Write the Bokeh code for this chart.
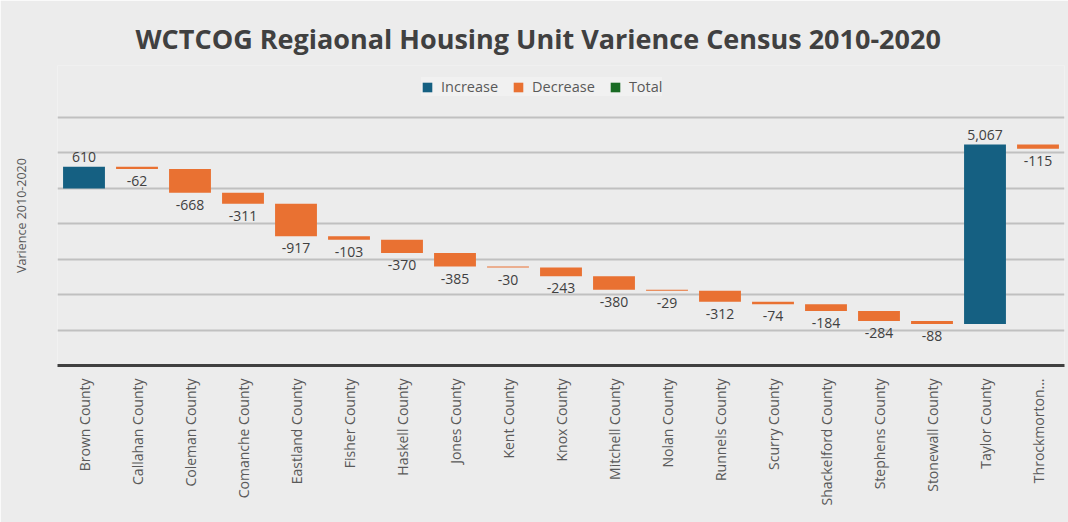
import numpy as np
from bokeh.plotting import figure
from bokeh.models import ColumnDataSource, Legend, LegendItem, FixedTicker, LabelSet, Range1d
from bokeh.core.properties import value
from bokeh.embed import file_html
from bokeh.resources import INLINE

counties = ["Brown County", "Callahan County", "Coleman County", "Comanche County",
            "Eastland County", "Fisher County", "Haskell County", "Jones County",
            "Kent County", "Knox County", "Mitchell County", "Nolan County",
            "Runnels County", "Scurry County", "Shackelford County", "Stephens County",
            "Stonewall County", "Taylor County", "Throckmorton..."]
changes = [610, -62, -668, -311, -917, -103, -370, -385, -30, -243, -380, -29,
           -312, -74, -184, -284, -88, 5067, -115]
y_ticks = [2000, 1000, 0, -1000, -2000, -3000, -4000, -5000]

BLUE = "#156082"
ORANGE = "#E97132"
GREEN = "#196B24"
BG = "#ececec"
FONT = "Open Sans"

chg = np.array(changes)
end = np.cumsum(chg)
start = end - chg

inc = chg > 0
dec = chg < 0

src_inc = ColumnDataSource(dict(x=[c for c, m in zip(counties, inc) if m],
                                bottom=start[inc], top=end[inc],
                                txt=[f"{v:,}" for v in chg[inc]]))
src_dec = ColumnDataSource(dict(x=[c for c, m in zip(counties, dec) if m],
                                bottom=end[dec], top=start[dec],
                                txt=[f"{v:,}" for v in chg[dec]]))

p = figure(x_range=counties, y_range=Range1d(-5000, 3470), width=1068, height=522,
           output_backend="svg", toolbar_location=None,
           min_border_left=57, min_border_right=4, min_border_top=65, min_border_bottom=157)

p.background_fill_color = BG
p.border_fill_color = BG
p.outline_line_color = None

p.title.text = "WCTCOG Regiaonal Housing Unit Varience Census 2010-2020"
p.title.align = "left"
p.title.text_font = FONT
p.title.text_font_size = "27px"
p.title.text_font_style = "bold"
p.title.text_color = "#404040"
p.title.offset = 78
p.title.standoff = 17

r_inc = p.vbar(x="x", top="top", bottom="bottom", width=0.79, source=src_inc,
               fill_color=BLUE, line_color=None)
r_dec = p.vbar(x="x", top="top", bottom="bottom", width=0.79, source=src_dec,
               fill_color=ORANGE, line_color=None)
r_tot = p.vbar(x=[counties[0]], top=[np.nan], bottom=[np.nan], width=0.79,
               fill_color=GREEN, line_color=None)

p.add_layout(LabelSet(x="x", y="top", text="txt", source=src_inc, text_align="center",
                      text_baseline="bottom", y_offset=5, text_font=value(FONT),
                      text_font_size=value("14px"), text_color="#404040"))
p.add_layout(LabelSet(x="x", y="bottom", text="txt", source=src_dec, text_align="center",
                      text_baseline="top", y_offset=-7, text_font=value(FONT),
                      text_font_size=value("14px"), text_color="#404040"))

legend = Legend(items=[LegendItem(label="Increase", renderers=[r_inc]),
                       LegendItem(label="Decrease", renderers=[r_dec]),
                       LegendItem(label="Total", renderers=[r_tot])],
                orientation="horizontal", location=(364, 269),
                label_text_font=FONT, label_text_font_size="14.5px", label_text_color="#595959",
                glyph_width=12, glyph_height=12, spacing=14, label_standoff=8,
                label_height=14,
                background_fill_color="#f3f3f3", background_fill_alpha=0.8,
                border_line_color=None, padding=12, margin=0)
p.add_layout(legend, "center")

p.yaxis.ticker = FixedTicker(ticks=[])
p.yaxis.major_tick_line_color = None
p.yaxis.minor_tick_line_color = None
p.yaxis.axis_line_color = None
p.yaxis.axis_label = "Varience 2010-2020"
p.yaxis.axis_label_text_font = FONT
p.yaxis.axis_label_text_font_size = "12.5px"
p.yaxis.axis_label_text_font_style = "normal"
p.yaxis.axis_label_text_color = "#595959"
p.yaxis.axis_label_standoff = 28

p.ygrid.ticker = FixedTicker(ticks=y_ticks)
p.ygrid.grid_line_color = "#c0c0c0"
p.ygrid.grid_line_width = 2
p.xgrid.grid_line_color = None

p.xaxis.major_label_orientation = np.pi / 2
p.xaxis.major_label_text_font = FONT
p.xaxis.major_label_text_font_size = "14px"
p.xaxis.major_label_text_color = "#595959"
p.xaxis.major_tick_line_color = None
p.xaxis.axis_line_color = "#404040"
p.xaxis.axis_line_width = 3
p.xaxis.major_label_standoff = 7

open("out.html", "w").write(file_html(p, INLINE))
